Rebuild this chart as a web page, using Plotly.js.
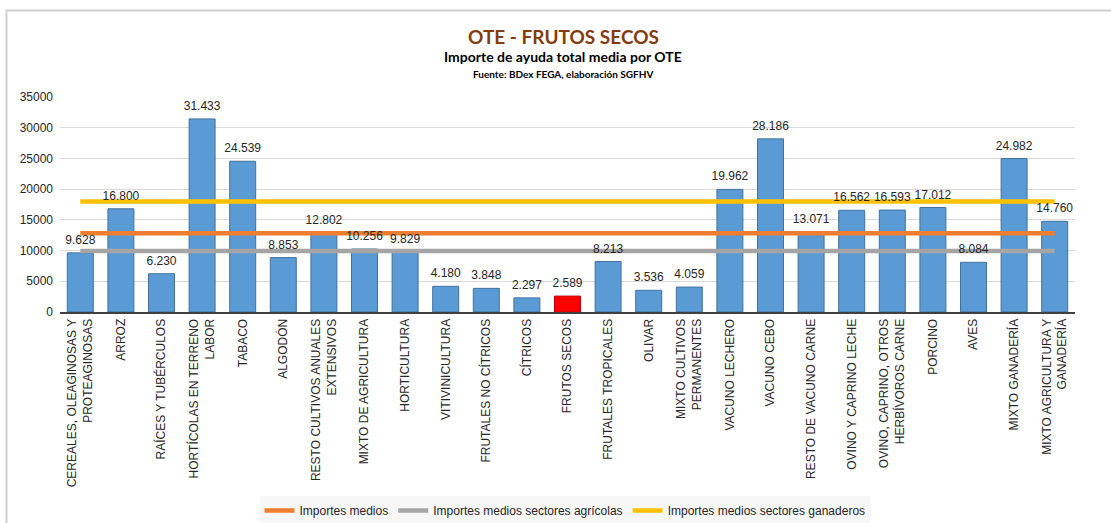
<!DOCTYPE html>
<html>
<head>
<meta charset="utf-8">
<script src="https://cdn.plot.ly/plotly-3.0.1.min.js"></script>
<style>
html,body{margin:0;padding:0;background:#fff;}
#chart{width:1111px;height:523px;}
</style>
</head>
<body>
<div id="chart"></div>
<script>
const categories = [
  "CEREALES, OLEAGINOSAS Y<br>PROTEAGINOSAS",
  "ARROZ",
  "RAÍCES Y TUBÉRCULOS",
  "HORTÍCOLAS EN TERRENO<br>LABOR",
  "TABACO",
  "ALGODÓN",
  "RESTO CULTIVOS ANUALES<br>EXTENSIVOS",
  "MIXTO DE AGRICULTURA",
  "HORTICULTURA",
  "VITIVINICULTURA",
  "FRUTALES NO CÍTRICOS",
  "CÍTRICOS",
  "FRUTOS SECOS",
  "FRUTALES TROPICALES",
  "OLIVAR",
  "MIXTO CULTIVOS<br>PERMANENTES",
  "VACUNO LECHERO",
  "VACUNO CEBO",
  "RESTO DE VACUNO CARNE",
  "OVINO Y CAPRINO LECHE",
  "OVINO, CAPRINO, OTROS<br>HERBÍVOROS CARNE",
  "PORCINO",
  "AVES",
  "MIXTO GANADERÍA",
  "MIXTO AGRICULTURA Y<br>GANADERÍA"
];
const importes = [9628, 16800, 6230, 31433, 24539, 8853, 12802, 10256, 9829, 4180, 3848, 2297, 2589, 8213, 3536, 4059, 19962, 28186, 13071, 16562, 16593, 17012, 8084, 24982, 14760];
const highlighted = "FRUTOS SECOS";
const lineNames = ["Importes medios", "Importes medios sectores agrícolas", "Importes medios sectores ganaderos"];
const lineValues = [12800, 9950, 18000];
const lineColors = ["#ED7D31", "#A5A5A5", "#FFC000"];

const barColors = categories.map(c => c === highlighted ? "#FF0000" : "#5B9BD5");
const barLines = categories.map(c => c === highlighted ? "#C00000" : "#41719C");

const traces = [{
  type: "bar",
  x: categories,
  y: importes,
  marker: {color: barColors, line: {color: barLines, width: 1}},
  showlegend: false,
  hoverinfo: "skip"
}];
lineNames.forEach((n, i) => {
  traces.push({
    type: "scatter",
    mode: "lines",
    name: n,
    x: [categories[0], categories[categories.length - 1]],
    y: [lineValues[i], lineValues[i]],
    line: {color: lineColors[i], width: 4.5},
    hoverinfo: "skip"
  });
});
// data labels drawn on top of the lines
traces.push({
  type: "scatter",
  mode: "markers+text",
  x: categories,
  y: importes,
  marker: {size: 8, color: "rgba(0,0,0,0)"},
  texttemplate: "%{y:,.0f}",
  textposition: "top center",
  cliponaxis: false,
  textfont: {family: "Liberation Sans, Arial, sans-serif", size: 12, color: "#262626"},
  showlegend: false,
  hoverinfo: "skip"
});

const L = 60, R = 36, T = 97, B = 211;
const W = 1111, H = 523;
const pw = W - L - R, ph = H - T - B;
const px = x => (x - L) / pw;
const py = y => (H - B - y) / ph;

const layout = {
  width: W, height: H,
  margin: {l: L, r: R, t: T, b: B, autoexpand: false},
  paper_bgcolor: "#ffffff",
  plot_bgcolor: "#ffffff",
  separators: ",.",
  bargap: 0.36,
  font: {family: "Liberation Sans, Arial, sans-serif", size: 12, color: "#404040"},
  showlegend: true,
  legend: {
    orientation: "h",
    x: px(565), xanchor: "center",
    y: py(496), yanchor: "top",
    bgcolor: "#f7f7f7",
    font: {family: "Liberation Sans, Arial, sans-serif", size: 12, color: "#262626"},
    itemwidth: 30
  },
  xaxis: {
    type: "category",
    tickangle: -90,
    tickfont: {family: "Liberation Sans, Arial, sans-serif", size: 12, color: "#262626"},
    showline: true, linecolor: "#404040", linewidth: 2,
    ticks: "", showgrid: false,
    automargin: false,
    range: [-0.5, categories.length - 0.5]
  },
  yaxis: {
    range: [0, 35000],
    dtick: 5000,
    tickformat: "d",
    tickfont: {family: "Liberation Sans, Arial, sans-serif", size: 12, color: "#262626"},
    gridcolor: "#D9D9D9", gridwidth: 1,
    zeroline: false,
    automargin: false,
    ticks: "", ticklabelstandoff: 6
  },
  annotations: [
    {text: "<b>OTE - FRUTOS SECOS</b>", xref: "paper", yref: "paper", x: px(563), y: py(37), showarrow: false,
     font: {family: "Lato, Carlito, sans-serif", size: 19, color: "#843C0C"}, xanchor: "center", yanchor: "middle"},
    {text: "<b>Importe de ayuda total media por OTE</b>", xref: "paper", yref: "paper", x: px(563), y: py(57), showarrow: false,
     font: {family: "Lato, Carlito, sans-serif", size: 14, color: "#000000"}, xanchor: "center", yanchor: "middle"},
    {text: "<b>Fuente: BDex FEGA, elaboración SGFHV</b>", xref: "paper", yref: "paper", x: px(563), y: py(74), showarrow: false,
     font: {family: "Lato, Carlito, sans-serif", size: 10, color: "#000000"}, xanchor: "center", yanchor: "middle"}
  ],
  shapes: [
    {type: "rect", xref: "paper", yref: "paper", x0: px(6.5), x1: px(1130), y0: py(560), y1: py(10.5),
     line: {color: "#D0D0D0", width: 2}, fillcolor: "rgba(0,0,0,0)", layer: "below"}
  ]
};

Plotly.newPlot("chart", traces, layout, {staticPlot: true, displayModeBar: false});
</script>
</body>
</html>
